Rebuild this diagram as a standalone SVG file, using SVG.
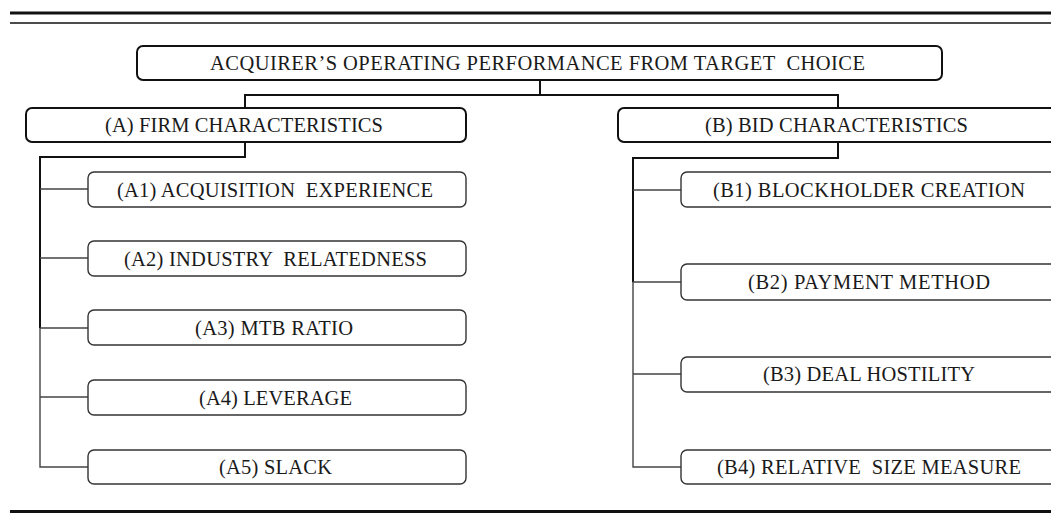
<svg xmlns="http://www.w3.org/2000/svg" width="1051" height="515" viewBox="0 0 1051 515">
<style>
text{font-family:"Liberation Serif","Times New Roman",serif;font-size:20.5px;fill:#1a1a1a;text-anchor:middle;white-space:pre}
.main{fill:#fff;stroke:#111;stroke-width:2}
.sub{fill:#fff;stroke:#333;stroke-width:1.4}
.c1{fill:none;stroke:#111;stroke-width:2}
.c2{fill:none;stroke:#444;stroke-width:1.4}
</style>
<rect width="1051" height="515" fill="#fff"/>
<g id="rules">
<line x1="10" y1="13" x2="1051" y2="13" stroke="#111" stroke-width="3"/>
<line x1="10" y1="23" x2="1051" y2="23" stroke="#111" stroke-width="1.6"/>
<line x1="10" y1="511.5" x2="1051" y2="511.5" stroke="#111" stroke-width="3"/>
</g>
<g id="connectors">
<path class="c1" d="M540 80V95M245 108V95H838V108"/>
<path class="c1" d="M245 142V157H40V328"/>
<path class="c2" d="M40 328V467H88M40 189H88M40 258H88M40 328H88M40 397H88"/>
<path class="c1" d="M838 142V158H633V282"/>
<path class="c2" d="M633 282V467H681M633 190H681M633 282H681M633 374H681"/>
</g>
<g id="root"><rect class="main" x="137" y="46" width="805" height="34" rx="6"/><text x="537.5" y="70" textLength="655">ACQUIRER’S OPERATING PERFORMANCE FROM TARGET  CHOICE</text></g>
<g id="A"><rect class="main" x="26" y="108" width="440" height="34" rx="6"/><text x="244" y="132" textLength="278">(A) FIRM CHARACTERISTICS</text></g>
<g id="B"><rect class="main" x="618" y="108" width="460" height="34" rx="6"/><text x="836.5" y="132" textLength="263">(B) BID CHARACTERISTICS</text></g>
<g id="A1"><rect class="sub" x="88" y="172" width="378" height="35" rx="6"/><text x="275" y="197" textLength="316">(A1) ACQUISITION  EXPERIENCE</text></g>
<g id="A2"><rect class="sub" x="88" y="241" width="378" height="35" rx="6"/><text x="275.5" y="266" textLength="303">(A2) INDUSTRY  RELATEDNESS</text></g>
<g id="A3"><rect class="sub" x="88" y="310" width="378" height="35" rx="6"/><text x="274" y="335" textLength="158">(A3) MTB RATIO</text></g>
<g id="A4"><rect class="sub" x="88" y="380" width="378" height="35" rx="6"/><text x="275.5" y="405" textLength="153">(A4) LEVERAGE</text></g>
<g id="A5"><rect class="sub" x="88" y="450" width="378" height="34" rx="6"/><text x="275.5" y="474" textLength="113">(A5) SLACK</text></g>
<g id="B1"><rect class="sub" x="681" y="172" width="390" height="35" rx="6"/><text x="869" y="197" textLength="312">(B1) BLOCKHOLDER CREATION</text></g>
<g id="B2"><rect class="sub" x="681" y="264" width="390" height="36" rx="6"/><text x="869" y="289" textLength="242">(B2) PAYMENT METHOD</text></g>
<g id="B3"><rect class="sub" x="681" y="357" width="390" height="35" rx="6"/><text x="869" y="381" textLength="212">(B3) DEAL HOSTILITY</text></g>
<g id="B4"><rect class="sub" x="681" y="450" width="390" height="34" rx="6"/><text x="869" y="474" textLength="304">(B4) RELATIVE  SIZE MEASURE</text></g>
</svg>
